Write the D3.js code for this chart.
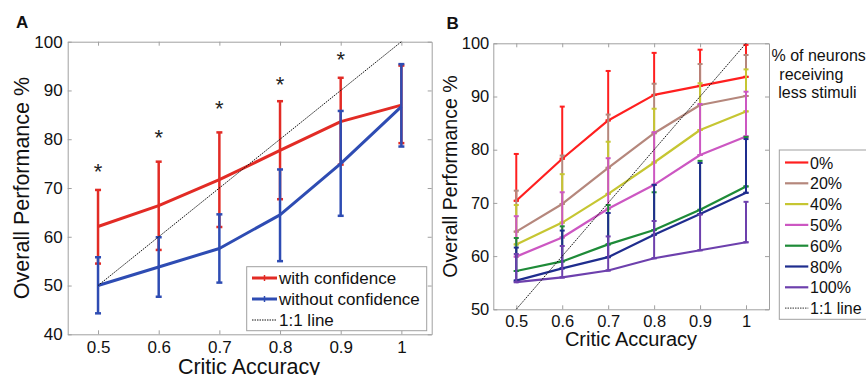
<!DOCTYPE html>
<html>
<head>
<meta charset="utf-8">
<script src="https://cdn.jsdelivr.net/npm/d3@7"></script>
<style>
  body { margin: 0; background: #fff; }
  svg { font-family: "Liberation Sans", Arial, sans-serif; }
</style>
</head>
<body>
<svg id="fig" width="866" height="375"></svg>
<script>
// critic accuracy levels (shared x values)
var accuracy = [0.5, 0.6, 0.7, 0.8, 0.9, 1];

// panel A: mean and error bar ends
var withConf     = [62.1, 66.4, 71.7, 77.7, 83.6, 87.0];
var withConfLo   = [54.5, 57.3, 62.0, 67.7, 74.8, 79.2];
var withConfHi   = [69.6, 75.4, 81.4, 87.8, 92.6, 95.1];
var withoutConf   = [50.0, 53.8, 57.6, 64.5, 75.0, 86.7];
var withoutConfLo = [44.3, 47.7, 50.6, 55.0, 64.3, 78.5];
var withoutConfHi = [55.8, 59.9, 64.6, 73.8, 85.8, 95.4];
var starAccuracy = [0.5, 0.6, 0.7, 0.8, 0.9];
var starLevel    = [74, 81, 87, 92, 97];

// panel B: % of neurons receiving less stimuli
var pctLabels = ["0%", "20%", "40%", "50%", "60%", "80%", "100%"];
var pctMean = [
  [70.4, 78.3, 85.5, 90.3, 92.0, 93.7],
  [64.6, 69.8, 76.6, 83.1, 88.4, 90.1],
  [62.2, 66.3, 71.7, 77.6, 83.7, 87.2],
  [59.9, 63.5, 68.9, 73.4, 79.0, 82.5],
  [57.2, 59.0, 62.2, 64.9, 68.7, 73.1],
  [55.4, 57.7, 59.8, 64.0, 67.9, 71.9],
  [55.1, 56.0, 57.3, 59.6, 61.1, 62.6]
];
var pctUpper = [
  [79.2, 88.1, 94.8, 98.2, 98.8, 99.7],
  [72.3, 78.9, 86.6, 92.4, 96.1, 97.8],
  [69.6, 75.4, 81.5, 87.7, 92.5, 95.1],
  [67.5, 72.0, 78.4, 83.3, 88.6, 90.9],
  [63.4, 65.6, 69.6, 72.0, 77.9, 82.4],
  [61.6, 64.8, 68.1, 73.4, 77.5, 82.0],
  [60.4, 61.9, 63.7, 66.6, 67.8, 70.2]
];
var pctColors = ["#ff1f1f", "#b5877c", "#c6c632", "#cc57c2", "#1e8b38", "#1f2d8e", "#6d40ad"];

var svg = d3.select("#fig");
var frameColor = "#a0a0a0";

function frame(g, x, y, opt) {
  var x0 = x.range()[0], x1 = x.range()[1], y0 = y.range()[0], y1 = y.range()[1];
  // bottom axis with labels, ticks point inward
  g.append("g").attr("transform", "translate(0," + y0 + ")")
    .call(d3.axisBottom(x).tickValues(accuracy).tickSize(-4).tickSizeOuter(0).tickPadding(opt.xpad)
      .tickFormat(function (d) { return d === 1 ? "1" : d3.format(".1f")(d); }))
    .call(styleAxis, opt.tickFont);
  g.append("g").attr("transform", "translate(0," + y1 + ")")
    .call(d3.axisTop(x).tickValues(accuracy).tickSize(-4).tickSizeOuter(0).tickFormat(""))
    .call(styleAxis, opt.tickFont);
  g.append("g").attr("transform", "translate(" + x0 + ",0)")
    .call(d3.axisLeft(y).tickValues(opt.yticks).tickSize(-4).tickSizeOuter(0).tickPadding(opt.ypad))
    .call(styleAxis, opt.tickFont);
  g.append("g").attr("transform", "translate(" + x1 + ",0)")
    .call(d3.axisRight(y).tickValues(opt.yticks).tickSize(-4).tickSizeOuter(0).tickFormat(""))
    .call(styleAxis, opt.tickFont);
}

function styleAxis(a, fs) {
  a.selectAll("path.domain").attr("stroke", frameColor);
  a.selectAll(".tick line").attr("stroke", frameColor);
  a.selectAll(".tick text").attr("fill", "#111").style("font-size", fs + "px")
    .style("font-family", "Liberation Sans, Arial, sans-serif");
}

function errBars(g, x, y, mean, lo, hi, color, sw, capW, meanCap) {
  var grp = g.append("g").attr("stroke", color).attr("stroke-width", sw);
  accuracy.forEach(function (a, i) {
    var cx = x(a);
    grp.append("line").attr("x1", cx).attr("x2", cx).attr("y1", y(lo[i])).attr("y2", y(hi[i]));
    grp.append("line").attr("x1", cx - capW / 2).attr("x2", cx + capW / 2).attr("y1", y(hi[i])).attr("y2", y(hi[i]));
    grp.append("line").attr("x1", cx - capW / 2).attr("x2", cx + capW / 2).attr("y1", y(lo[i])).attr("y2", y(lo[i]));
    if (meanCap) {
      grp.append("line").attr("x1", cx - capW / 2).attr("x2", cx + capW / 2).attr("y1", y(mean[i])).attr("y2", y(mean[i]));
    }
  });
}

function meanLine(g, x, y, vals, color, sw) {
  var line = d3.line().x(function (d, i) { return x(accuracy[i]); }).y(function (d) { return y(d); });
  g.append("path").datum(vals).attr("d", line)
    .attr("fill", "none").attr("stroke", color).attr("stroke-width", sw).attr("stroke-linejoin", "round");
}

function unityLine(g, x, y) {
  var pts = [0.5, 1];
  g.append("path").datum(pts)
    .attr("d", d3.line().x(function (d) { return x(d); }).y(function (d) { return y(d * 100); }))
    .attr("stroke", "#111").attr("stroke-width", 1).attr("stroke-dasharray", "1.5,1").attr("fill", "none");
}

// ---------------- Panel A ----------------
var gA = svg.append("g");
var xA = d3.scaleLinear().domain([0.45, 1.05]).range([67.7, 431.7]);
var yA = d3.scaleLinear().domain([40, 100]).range([334.3, 41.7]);

frame(gA, xA, yA, { yticks: [40, 50, 60, 70, 80, 90, 100], xpad: 7, ypad: 5, tickFont: 17 });

var redA = "#e22b25", blueA = "#2e4cb3";
errBars(gA, xA, yA, withConf, withConfLo, withConfHi, redA, 2.5, 6, false);
meanLine(gA, xA, yA, withConf, redA, 3);
errBars(gA, xA, yA, withoutConf, withoutConfLo, withoutConfHi, blueA, 2.5, 6, false);
meanLine(gA, xA, yA, withoutConf, blueA, 3);
unityLine(gA, xA, yA);

gA.selectAll("text.star").data(starLevel).enter().append("text")
  .attr("class", "star")
  .attr("x", function (d, i) { return xA(starAccuracy[i]); })
  .attr("y", function (d) { return yA(d) + 11; })
  .attr("text-anchor", "middle").style("font-size", "22px").attr("fill", "#222")
  .text("*");

// legend A
var legA = gA.append("g");
legA.append("rect").attr("x", 246.7).attr("y", 266.7).attr("width", 180).attr("height", 64)
  .attr("fill", "#fff").attr("stroke", frameColor);
var legAItems = [
  { label: "with confidence", color: redA, dash: null, w: 3 },
  { label: "without confidence", color: blueA, dash: null, w: 3 },
  { label: "1:1 line", color: "#111", dash: "1.5,1", w: 1 }
];
legAItems.forEach(function (d, i) {
  var ly = 278 + i * 21;
  legA.append("line").attr("x1", 252).attr("x2", 277).attr("y1", ly).attr("y2", ly)
    .attr("stroke", d.color).attr("stroke-width", d.w).attr("stroke-dasharray", d.dash);
  if (!d.dash) {
    legA.append("line").attr("x1", 264.5).attr("x2", 264.5).attr("y1", ly - 3).attr("y2", ly + 3)
      .attr("stroke", d.color).attr("stroke-width", 1.5);
  }
  legA.append("text").attr("x", 279).attr("y", ly + 6).style("font-size", "17px").attr("fill", "#111").text(d.label);
});

gA.append("text").attr("transform", "translate(29," + 188 + ") rotate(-90)")
  .attr("text-anchor", "middle").style("font-size", "21.5px").attr("fill", "#111")
  .text("Overall Performance %");
gA.append("text").attr("x", 249).attr("y", 373.5).attr("text-anchor", "middle")
  .style("font-size", "21.5px").attr("fill", "#111").text("Critic Accuracy");
gA.append("text").attr("x", 16).attr("y", 28.3).style("font-size", "17px").style("font-weight", "bold")
  .attr("fill", "#111").text("A");

// ---------------- Panel B ----------------
var gB = svg.append("g");
var xB = d3.scaleLinear().domain([0.45, 1.05]).range([493.3, 769]);
var yB = d3.scaleLinear().domain([50, 100]).range([309.3, 43.3]);

frame(gB, xB, yB, { yticks: [50, 60, 70, 80, 90, 100], xpad: 6, ypad: 4, tickFont: 16.5 });

pctLabels.forEach(function (lab, k) {
  errBars(gB, xB, yB, pctMean[k], pctMean[k], pctUpper[k], pctColors[k], 2, 5, true);
  meanLine(gB, xB, yB, pctMean[k], pctColors[k], 2.2);
});
unityLine(gB, xB, yB);

// legend B
var legB = gB.append("g");
legB.append("rect").attr("x", 779.3).attr("y", 150).attr("width", 100).attr("height", 169.3)
  .attr("fill", "#fff").attr("stroke", frameColor);
var legBLabels = pctLabels.concat(["1:1 line"]);
legBLabels.forEach(function (lab, i) {
  var ly = 162.5 + i * 20.8;
  var isUnity = i === pctLabels.length;
  legB.append("line").attr("x1", 785).attr("x2", 808.3).attr("y1", ly).attr("y2", ly)
    .attr("stroke", isUnity ? "#333" : pctColors[i]).attr("stroke-width", isUnity ? 1 : 2.2)
    .attr("stroke-dasharray", isUnity ? "1.5,1" : null);
  legB.append("text").attr("x", 810).attr("y", ly + 6).style("font-size", "16px").attr("fill", "#111").text(lab);
});

var titleLines = [
  { t: "% of neurons", x: 771.5, y: 61 },
  { t: "receiving", x: 779.3, y: 79.5 },
  { t: "less stimuli", x: 778.3, y: 98 }
];
gB.selectAll("text.ttl").data(titleLines).enter().append("text")
  .attr("class", "ttl").attr("x", function (d) { return d.x; }).attr("y", function (d) { return d.y; })
  .style("font-size", "16px").attr("fill", "#111").text(function (d) { return d.t; });

gB.append("text").attr("transform", "translate(457," + 176.5 + ") rotate(-90)")
  .attr("text-anchor", "middle").style("font-size", "19.6px").attr("fill", "#111")
  .text("Overall Performance %");
gB.append("text").attr("x", 631).attr("y", 346.3).attr("text-anchor", "middle")
  .style("font-size", "20px").attr("fill", "#111").text("Critic Accuracy");
gB.append("text").attr("x", 446.5).attr("y", 29).style("font-size", "17px").style("font-weight", "bold")
  .attr("fill", "#111").text("B");
</script>
</body>
</html>
